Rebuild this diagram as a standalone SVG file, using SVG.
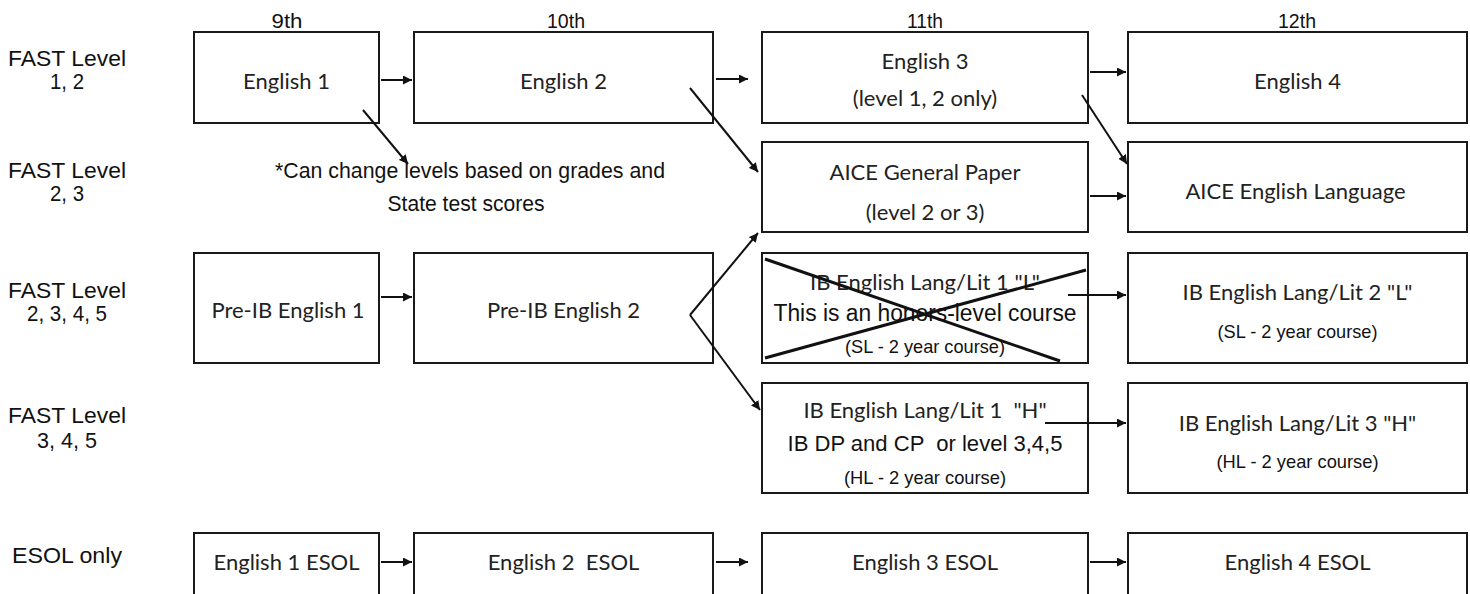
<svg xmlns="http://www.w3.org/2000/svg" width="1470" height="594" viewBox="0 0 1470 594">
<defs>
<marker id="ah" viewBox="0 0 10 10" refX="10" refY="5" markerWidth="4.5" markerHeight="4.5" orient="auto" markerUnits="strokeWidth">
<path d="M0,0 L10,5 L0,10 z" fill="#111"/>
</marker>
<style>
.box{fill:#fff;stroke:#1a1a1a;stroke-width:2}
.lbl{font-family:"Liberation Sans Narrow","Liberation Sans",Arial,sans-serif;font-size:22px;fill:#111;text-anchor:middle}
.hd{font-family:"Liberation Sans Narrow","Liberation Sans",Arial,sans-serif;font-size:20px;fill:#111;text-anchor:middle}
.bt{font-family:Lato,"Open Sans",sans-serif;font-size:22px;fill:#222;text-anchor:middle}
.pt{font-family:"Liberation Sans Narrow","Liberation Sans",Arial,sans-serif;font-size:19px;fill:#111;text-anchor:middle}
.big{font-family:"Liberation Sans Narrow","Liberation Sans",Arial,sans-serif;font-size:23px;fill:#111;text-anchor:middle}
.con{stroke:#111;stroke-width:3;fill:none}
.arr{stroke:#111;stroke-width:2;fill:none;marker-end:url(#ah)}
</style>
</defs>
<rect width="1470" height="594" fill="#fff"/>

<g id="row-labels">
<text class="lbl" x="67" y="66" textLength="118" lengthAdjust="spacingAndGlyphs">FAST Level</text>
<text class="lbl" x="67" y="89" textLength="34" lengthAdjust="spacingAndGlyphs">1, 2</text>
<text class="lbl" x="67" y="178" textLength="118" lengthAdjust="spacingAndGlyphs">FAST Level</text>
<text class="lbl" x="67" y="201" textLength="34" lengthAdjust="spacingAndGlyphs">2, 3</text>
<text class="lbl" x="67" y="298" textLength="118" lengthAdjust="spacingAndGlyphs">FAST Level</text>
<text class="lbl" x="67" y="321" textLength="80" lengthAdjust="spacingAndGlyphs">2, 3, 4, 5</text>
<text class="lbl" x="67" y="423" textLength="118" lengthAdjust="spacingAndGlyphs">FAST Level</text>
<text class="lbl" x="67" y="448" textLength="60" lengthAdjust="spacingAndGlyphs">3, 4, 5</text>
<text class="lbl" x="67" y="563" textLength="110" lengthAdjust="spacingAndGlyphs">ESOL only</text>
</g>

<g id="headers">
<text class="hd" x="287" y="28" textLength="31" lengthAdjust="spacingAndGlyphs">9th</text>
<text class="hd" x="566" y="28" textLength="38" lengthAdjust="spacingAndGlyphs">10th</text>
<text class="hd" x="925" y="28" textLength="36" lengthAdjust="spacingAndGlyphs">11th</text>
<text class="hd" x="1297" y="28" textLength="38" lengthAdjust="spacingAndGlyphs">12th</text>
</g>

<g id="note">
<text class="lbl" x="470" y="178" textLength="390" lengthAdjust="spacingAndGlyphs">*Can change levels based on grades and</text>
<text class="lbl" x="466" y="211" textLength="157" lengthAdjust="spacingAndGlyphs">State test scores</text>
</g>

<g id="english1"><rect class="box" x="194" y="32" width="185" height="91"/><text class="bt" x="286.5" y="89">English 1</text></g>
<g id="english2"><rect class="box" x="414" y="32" width="299" height="91"/><text class="bt" x="563.5" y="89">English 2</text></g>
<g id="english3"><rect class="box" x="762" y="32" width="326" height="91"/><text class="bt" x="925" y="69">English 3</text><text class="bt" x="925" y="106">(level 1, 2 only)</text></g>
<g id="english4"><rect class="box" x="1128" y="32" width="339" height="91"/><text class="bt" x="1297.5" y="89">English 4</text></g>

<g id="aice-gp"><rect class="box" x="762" y="142" width="326" height="90"/><text class="bt" x="925" y="180">AICE General Paper</text><text class="bt" x="925" y="220">(level 2 or 3)</text></g>
<g id="aice-el"><rect class="box" x="1128" y="142" width="339" height="90"/><text class="bt" x="1295.5" y="199">AICE English Language</text></g>

<g id="preib1"><rect class="box" x="194" y="253" width="185" height="110"/><text class="bt" x="288" y="318">Pre-IB English 1</text></g>
<g id="preib2"><rect class="box" x="414" y="253" width="299" height="110"/><text class="bt" x="563.5" y="318">Pre-IB English 2</text></g>

<g id="ib1-l"><rect class="box" x="762" y="253" width="326" height="110"/>
<text class="bt" x="925" y="290">IB English Lang/Lit 1 "L"</text>
<text class="big" x="925" y="321" textLength="303" lengthAdjust="spacingAndGlyphs">This is an honors-level course</text>
<text class="pt" x="925" y="353" textLength="160" lengthAdjust="spacingAndGlyphs">(SL - 2 year course)</text>
<line class="con" x1="765" y1="259" x2="1060" y2="361"/>
<line class="con" x1="765" y1="358" x2="1086" y2="270"/>
</g>
<g id="ib2-l"><rect class="box" x="1128" y="253" width="339" height="110"/>
<text class="bt" x="1297.5" y="300">IB English Lang/Lit 2 "L"</text>
<text class="pt" x="1297.5" y="338" textLength="160" lengthAdjust="spacingAndGlyphs">(SL - 2 year course)</text></g>

<g id="ib1-h"><rect class="box" x="762" y="383" width="326" height="110"/>
<text class="bt" x="925" y="418" xml:space="preserve">IB English Lang/Lit 1  "H"</text>
<text class="lbl" x="925" y="451" textLength="275" lengthAdjust="spacingAndGlyphs" xml:space="preserve">IB DP and CP  or level 3,4,5</text>
<text class="pt" x="925" y="484" textLength="162" lengthAdjust="spacingAndGlyphs">(HL - 2 year course)</text></g>
<g id="ib3-h"><rect class="box" x="1128" y="383" width="339" height="110"/>
<text class="bt" x="1297.5" y="431">IB English Lang/Lit 3 "H"</text>
<text class="pt" x="1297.5" y="468" textLength="162" lengthAdjust="spacingAndGlyphs">(HL - 2 year course)</text></g>

<g id="eng1-esol"><rect class="box" x="194" y="533" width="185" height="70"/><text class="bt" x="286.5" y="570">English 1 ESOL</text></g>
<g id="eng2-esol"><rect class="box" x="414" y="533" width="299" height="70"/><text class="bt" x="563.5" y="570" xml:space="preserve">English 2  ESOL</text></g>
<g id="eng3-esol"><rect class="box" x="762" y="533" width="326" height="70"/><text class="bt" x="925" y="570">English 3 ESOL</text></g>
<g id="eng4-esol"><rect class="box" x="1128" y="533" width="339" height="70"/><text class="bt" x="1297.5" y="570">English 4 ESOL</text></g>

<g id="connectors">
<line class="arr" x1="381" y1="80" x2="412" y2="80"/>
<line class="arr" x1="716" y1="79" x2="748" y2="79"/>
<line class="arr" x1="1090" y1="72" x2="1126" y2="72"/>
<line class="arr" x1="363" y1="110" x2="408" y2="164"/>
<line class="arr" x1="690" y1="88" x2="758" y2="172"/>
<line class="arr" x1="1082" y1="95" x2="1127" y2="164"/>
<line class="arr" x1="1090" y1="196" x2="1126" y2="196"/>
<line class="arr" x1="381" y1="297" x2="412" y2="297"/>
<line class="arr" x1="690" y1="315" x2="758" y2="233"/>
<line class="arr" x1="690" y1="315" x2="760" y2="410"/>
<line class="arr" x1="1068" y1="295" x2="1126" y2="295"/>
<line class="arr" x1="1045" y1="423" x2="1126" y2="423"/>
<line class="arr" x1="381" y1="562" x2="412" y2="562"/>
<line class="arr" x1="716" y1="562" x2="748" y2="562"/>
<line class="arr" x1="1090" y1="562" x2="1126" y2="562"/>
</g>
</svg>
